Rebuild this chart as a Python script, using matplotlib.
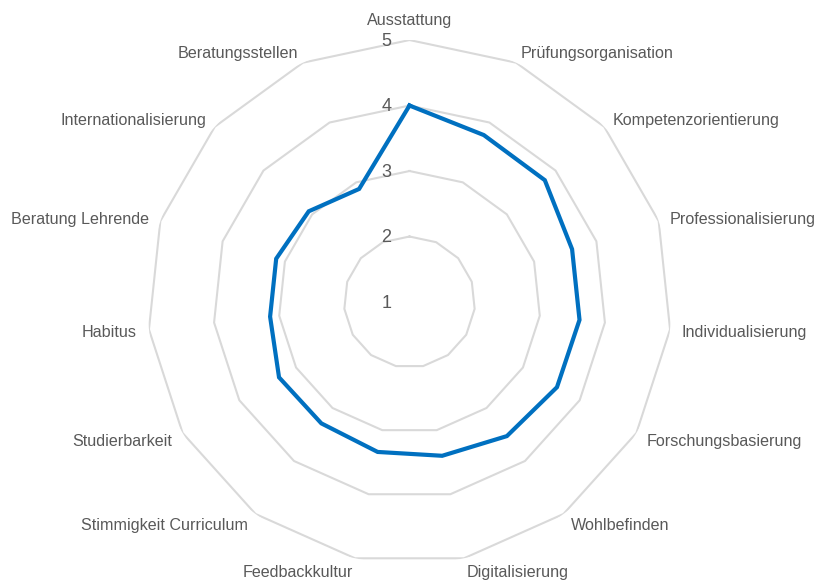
import numpy as np
import matplotlib
matplotlib.use('Agg')
import matplotlib.pyplot as plt

plt.rcParams['font.family'] = ['Liberation Sans', 'DejaVu Sans']

categories = ['Ausstattung', 'Prüfungsorganisation', 'Kompetenzorientierung',
              'Professionalisierung', 'Individualisierung', 'Forschungsbasierung',
              'Wohlbefinden', 'Digitalisierung', 'Feedbackkultur',
              'Stimmigkeit Curriculum', 'Studierbarkeit', 'Habitus',
              'Beratung Lehrende', 'Internationalisierung', 'Beratungsstellen']
values = [4.0, 3.79, 3.78, 3.61, 3.61, 3.60, 3.53, 3.40, 3.34,
          3.29, 3.30, 3.14, 3.14, 3.07, 2.89]
levels = [1, 2, 3, 4, 5]

n = len(categories)
angles = np.linspace(0, 2 * np.pi, n, endpoint=False)
ang_closed = np.append(angles, angles[0])

fig = plt.figure(figsize=(8.19, 5.86), dpi=100)
ax = fig.add_axes([0.1801, 0.0375, 0.6398, 0.8942], projection='polar')
ax.set_theta_zero_location('N')
ax.set_theta_direction(-1)
ax.set_ylim(levels[0], levels[-1])
ax.grid(False)
ax.spines['polar'].set_visible(False)
ax.set_xticks([])
ax.set_yticks([])
ax.patch.set_alpha(0)

# polygon gridlines
for lvl in levels[1:]:
    ax.plot(ang_closed, [lvl] * (n + 1), color='#D9D9D9', lw=1.5, zorder=1)

# data line
ax.plot(ang_closed, values + values[:1], color='#0070C0', lw=3, zorder=3,
        solid_joinstyle='miter')

# value labels
for lvl in levels:
    ax.annotate(str(lvl), xy=(0, lvl), xytext=(-18, -1), textcoords='offset pixels',
                ha='right', va='center', fontsize=13, color='#595959', zorder=4)

# category labels
for a, lab in zip(angles, categories):
    s, c = np.sin(a), np.cos(a)
    if abs(s) < 0.1 and c > 0:
        ha, va, pad = 'center', 'bottom', 14
    else:
        ha = 'left' if s > 0.1 else ('right' if s < -0.1 else 'center')
        va, pad = 'center', 12
    ax.annotate(lab, xy=(a, levels[-1]), xytext=(pad * s, pad * c - 2),
                textcoords='offset pixels', ha=ha, va=va, fontsize=11.6,
                color='#595959', annotation_clip=False)

fig.savefig('out.png', dpi=100)
